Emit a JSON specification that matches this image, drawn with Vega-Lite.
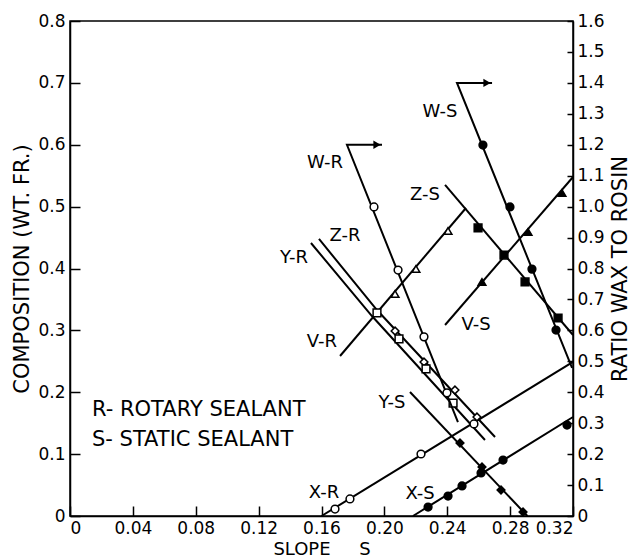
{
  "$schema": "https://vega.github.io/schema/vega-lite/v6.json",
  "width": 503,
  "height": 495,
  "autosize": {"type": "none"},
  "padding": {"left": 70, "top": 21, "right": 59, "bottom": 43},
  "background": "white",
  "config": {
    "view": {"stroke": "black", "strokeWidth": 1.5},
    "font": "DejaVu Sans",
    "axis": {
      "grid": false,
      "domainColor": "black",
      "domainWidth": 1.5,
      "tickColor": "black",
      "tickWidth": 1.5,
      "labelColor": "black",
      "labelFont": "DejaVu Sans",
      "labelFontSize": 17,
      "titleFont": "DejaVu Sans",
      "titleFontSize": 20,
      "titleFontWeight": "normal",
      "titleColor": "black"
    }
  },
  "datasets": {
    "lines": [
      {"series": "Z-R", "ord": 1, "x": 0.1584, "y": 0.4477},
      {"series": "Z-R", "ord": 2, "x": 0.1953, "y": 0.3329},
      {"series": "Z-R", "ord": 3, "x": 0.2704, "y": 0.1277},
      {"series": "Y-R", "ord": 1, "x": 0.1533, "y": 0.4412},
      {"series": "Y-R", "ord": 2, "x": 0.1921, "y": 0.3232},
      {"series": "Y-R", "ord": 3, "x": 0.264, "y": 0.1228},
      {"series": "V-R", "ord": 1, "x": 0.1718, "y": 0.2586},
      {"series": "V-R", "ord": 2, "x": 0.2519, "y": 0.4978},
      {"series": "X-R", "ord": 1, "x": 0.16, "y": 0.0},
      {"series": "X-R", "ord": 2, "x": 0.32, "y": 0.249},
      {"series": "Z-S", "ord": 1, "x": 0.2386, "y": 0.535},
      {"series": "Z-S", "ord": 2, "x": 0.32, "y": 0.2925},
      {"series": "V-S", "ord": 1, "x": 0.2386, "y": 0.3087},
      {"series": "V-S", "ord": 2, "x": 0.32, "y": 0.5479},
      {"series": "Y-S", "ord": 1, "x": 0.2163, "y": 0.2004},
      {"series": "Y-S", "ord": 2, "x": 0.291, "y": 0.0},
      {"series": "X-S", "ord": 1, "x": 0.2182, "y": 0.0},
      {"series": "X-S", "ord": 2, "x": 0.32, "y": 0.16}
    ],
    "points": [
      {"series": "Z-R", "kind": "open", "x": 0.2068, "y": 0.299},
      {"series": "Z-R", "kind": "open", "x": 0.2252, "y": 0.2489},
      {"series": "Z-R", "kind": "open", "x": 0.2449, "y": 0.2036},
      {"series": "Z-R", "kind": "open", "x": 0.2589, "y": 0.16},
      {"series": "Y-R", "kind": "open", "x": 0.1953, "y": 0.3281},
      {"series": "Y-R", "kind": "open", "x": 0.2093, "y": 0.2861},
      {"series": "Y-R", "kind": "open", "x": 0.2265, "y": 0.2376},
      {"series": "Y-R", "kind": "open", "x": 0.2437, "y": 0.1826},
      {"series": "V-R", "kind": "open", "x": 0.2068, "y": 0.3588},
      {"series": "V-R", "kind": "open", "x": 0.2201, "y": 0.3992},
      {"series": "V-R", "kind": "open", "x": 0.2405, "y": 0.4606},
      {"series": "X-R", "kind": "open", "x": 0.1686, "y": 0.0113},
      {"series": "X-R", "kind": "open", "x": 0.1781, "y": 0.0275},
      {"series": "X-R", "kind": "open", "x": 0.2233, "y": 0.1002},
      {"series": "X-R", "kind": "open", "x": 0.257, "y": 0.1487},
      {"series": "Z-S", "kind": "filled", "x": 0.2596, "y": 0.4655},
      {"series": "Z-S", "kind": "filled", "x": 0.2761, "y": 0.4218},
      {"series": "Z-S", "kind": "filled", "x": 0.2895, "y": 0.3782},
      {"series": "Z-S", "kind": "filled", "x": 0.3105, "y": 0.32},
      {"series": "V-S", "kind": "filled", "x": 0.2621, "y": 0.3782},
      {"series": "V-S", "kind": "filled", "x": 0.2914, "y": 0.459},
      {"series": "V-S", "kind": "filled", "x": 0.313, "y": 0.522},
      {"series": "Y-S", "kind": "filled", "x": 0.2481, "y": 0.118},
      {"series": "Y-S", "kind": "filled", "x": 0.2621, "y": 0.0792},
      {"series": "Y-S", "kind": "filled", "x": 0.2742, "y": 0.042},
      {"series": "Y-S", "kind": "filled", "x": 0.2882, "y": 0.0065},
      {"series": "X-S", "kind": "filled", "x": 0.2278, "y": 0.0145},
      {"series": "X-S", "kind": "filled", "x": 0.2405, "y": 0.0323},
      {"series": "X-S", "kind": "filled", "x": 0.2494, "y": 0.0485},
      {"series": "X-S", "kind": "filled", "x": 0.2615, "y": 0.0695},
      {"series": "X-S", "kind": "filled", "x": 0.2755, "y": 0.0905},
      {"series": "X-S", "kind": "filled", "x": 0.3162, "y": 0.147}
    ],
    "labels": [
      {"text": "W-R", "x": 0.1622, "y": 0.5705},
      {"text": "Z-R", "x": 0.175, "y": 0.4525},
      {"text": "Y-R", "x": 0.1425, "y": 0.417},
      {"text": "V-R", "x": 0.1603, "y": 0.2812},
      {"text": "X-R", "x": 0.1616, "y": 0.0372},
      {"text": "W-S", "x": 0.2354, "y": 0.653},
      {"text": "Z-S", "x": 0.2258, "y": 0.5188},
      {"text": "Y-S", "x": 0.2048, "y": 0.1826},
      {"text": "V-S", "x": 0.2583, "y": 0.3087},
      {"text": "X-S", "x": 0.2227, "y": 0.0356}
    ],
    "notes": [
      {"text": "R- ROTARY SEALANT", "x": 0.014, "y": 0.1713},
      {"text": "S- STATIC SEALANT", "x": 0.014, "y": 0.1228}
    ],
    "wlines": [
      {"series": "W-R", "ord": 1, "x": 0.1985, "y": 1.2},
      {"series": "W-R", "ord": 2, "x": 0.1762, "y": 1.2},
      {"series": "W-R", "ord": 3, "x": 0.2468, "y": 0.3038},
      {"series": "W-S", "ord": 1, "x": 0.2685, "y": 1.4},
      {"series": "W-S", "ord": 2, "x": 0.2462, "y": 1.4},
      {"series": "W-S", "ord": 3, "x": 0.3194, "y": 0.4784}
    ],
    "wpoints": [
      {"series": "W-R", "kind": "open", "x": 0.1934, "y": 0.999},
      {"series": "W-R", "kind": "open", "x": 0.2087, "y": 0.795},
      {"series": "W-R", "kind": "open", "x": 0.2252, "y": 0.579},
      {"series": "W-R", "kind": "open", "x": 0.2398, "y": 0.398},
      {"series": "W-S", "kind": "filled", "x": 0.2627, "y": 1.199},
      {"series": "W-S", "kind": "filled", "x": 0.2799, "y": 0.999},
      {"series": "W-S", "kind": "filled", "x": 0.2939, "y": 0.798},
      {"series": "W-S", "kind": "filled", "x": 0.3092, "y": 0.601}
    ],
    "arrows": [
      {"series": "W-R", "x": 0.1953, "y": 1.2},
      {"series": "W-S", "x": 0.2653, "y": 1.4}
    ]
  },
  "encoding": {
    "x": {
      "field": "x",
      "type": "quantitative",
      "scale": {"domain": [0, 0.32], "nice": false, "zero": false},
      "axis": {
        "orient": "bottom",
        "values": [0, 0.04, 0.08, 0.12, 0.16, 0.2, 0.24, 0.28, 0.32],
        "labelExpr": "datum.value == 0 ? '0' : format(datum.value, '.2f')",
        "tickSize": -10,
        "labelPadding": 14,
        "title": "SLOPE\u00a0\u00a0\u00a0\u00a0\u00a0S",
        "titleFontSize": 18,
        "titlePadding": 4
      }
    }
  },
  "layer": [
    {
      "encoding": {
        "y": {
          "field": "y",
          "type": "quantitative",
          "scale": {"domain": [0, 0.8], "nice": false, "zero": false},
          "axis": {
            "orient": "left",
            "values": [0, 0.1, 0.2, 0.3, 0.4, 0.5, 0.6, 0.7, 0.8],
            "labelExpr": "datum.value == 0 ? '0' : format(datum.value, '.1f')",
            "tickSize": -10,
            "labelPadding": 15,
            "title": "COMPOSITION (WT. FR.)",
            "titleFontSize": 21,
            "titlePadding": 5
          }
        }
      },
      "layer": [
        {
          "data": {"name": "lines"},
          "mark": {"type": "line", "color": "black", "strokeWidth": 2},
          "encoding": {
            "detail": {"field": "series", "type": "nominal"},
            "order": {"field": "ord", "type": "quantitative"}
          }
        },
        {
          "data": {"name": "points"},
          "mark": {"type": "point", "filled": true, "stroke": "black", "strokeWidth": 1.5, "size": 60, "opacity": 1},
          "encoding": {
            "shape": {
              "field": "series",
              "type": "nominal",
              "scale": {
                "domain": ["Z-R", "Y-R", "V-R", "X-R", "Z-S", "V-S", "Y-S", "X-S"],
                "range": ["diamond", "square", "triangle-up", "circle", "square", "triangle-up", "diamond", "circle"]
              },
              "legend": null
            },
            "fill": {
              "field": "kind",
              "type": "nominal",
              "scale": {"domain": ["open", "filled"], "range": ["white", "black"]},
              "legend": null
            }
          }
        },
        {
          "data": {"name": "labels"},
          "mark": {"type": "text", "font": "DejaVu Sans", "fontSize": 18, "color": "black", "align": "center", "baseline": "middle"},
          "encoding": {"text": {"field": "text"}}
        },
        {
          "data": {"name": "notes"},
          "mark": {"type": "text", "font": "DejaVu Sans", "fontSize": 21, "color": "black", "align": "left", "baseline": "middle"},
          "encoding": {"text": {"field": "text"}}
        }
      ]
    },
    {
      "encoding": {
        "y": {
          "field": "y",
          "type": "quantitative",
          "scale": {"domain": [0, 1.6], "nice": false, "zero": false},
          "axis": {
            "orient": "right",
            "values": [0, 0.1, 0.2, 0.3, 0.4, 0.5, 0.6, 0.7, 0.8, 0.9, 1, 1.1, 1.2, 1.3, 1.4, 1.5, 1.6],
            "labelExpr": "datum.value == 0 ? '0' : format(datum.value, '.1f')",
            "tickSize": -6,
            "labelPadding": 10,
            "title": "RATIO WAX TO ROSIN",
            "titleAngle": -90,
            "titleBaseline": "top",
            "titleFontSize": 21,
            "titlePadding": 5
          }
        }
      },
      "layer": [
        {
          "data": {"name": "wlines"},
          "mark": {"type": "line", "color": "black", "strokeWidth": 2},
          "encoding": {
            "detail": {"field": "series", "type": "nominal"},
            "order": {"field": "ord", "type": "quantitative"}
          }
        },
        {
          "data": {"name": "wpoints"},
          "mark": {"type": "point", "shape": "circle", "filled": true, "stroke": "black", "strokeWidth": 1.5, "size": 60, "opacity": 1},
          "encoding": {
            "fill": {
              "field": "kind",
              "type": "nominal",
              "scale": {"domain": ["open", "filled"], "range": ["white", "black"]},
              "legend": null
            }
          }
        },
        {
          "data": {"name": "arrows"},
          "mark": {"type": "point", "shape": "triangle-right", "filled": true, "color": "black", "size": 70, "opacity": 1},
          "encoding": {}
        }
      ]
    }
  ],
  "resolve": {"scale": {"y": "independent", "fill": "independent", "shape": "independent"}}
}
